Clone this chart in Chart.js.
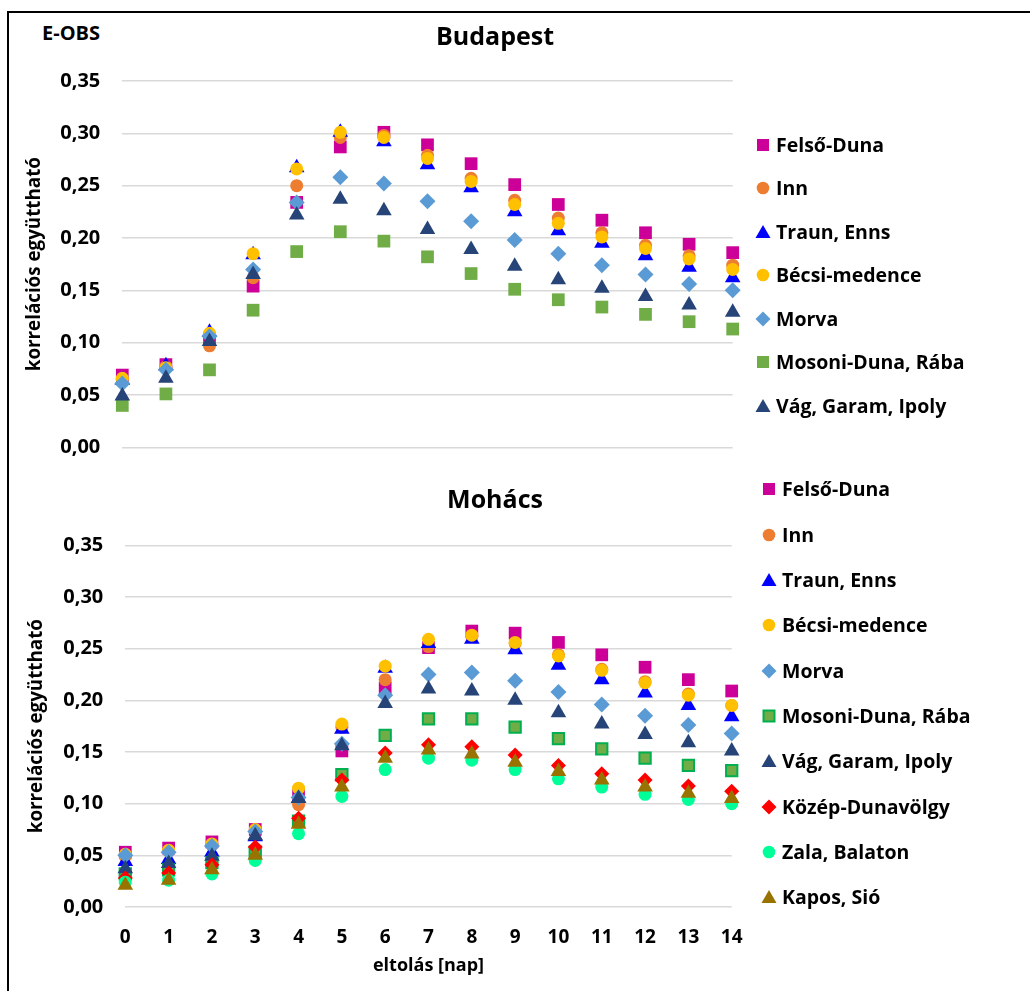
<!DOCTYPE html>
<html>
<head>
<meta charset="utf-8">
<script src="https://cdn.jsdelivr.net/npm/chart.js@4.4.1/dist/chart.umd.min.js"></script>
<style>
  html, body { margin: 0; padding: 0; background: #fff; }
  body { width: 1030px; height: 991px; position: relative; overflow: hidden; font-family: "Open Sans", sans-serif; }
  #frame { position: absolute; left: 7px; top: 11px; width: 1040px; height: 1000px; border-top: 2px solid #000; border-left: 2px solid #000; }
  #eobs { position: absolute; left: 42px; top: 23px; font-size: 20px; line-height: 20px; font-weight: 700; color: #000; }
  .wrap { position: absolute; left: 0; }
  .legend { position: absolute; left: 0; top: 0; }
  .item { position: absolute; height: 26px; line-height: 26px; display: flex; align-items: center; white-space: nowrap; font-size: 19.5px; font-weight: 700; color: #000; }
  .item svg { width: 18px; height: 18px; margin-right: 4px; flex: none; }
</style>
</head>
<body>
<div id="frame"></div>
<div id="eobs">E-OBS</div>
<div class="wrap" style="top:0"><canvas id="chartBudapest" width="990" height="482"></canvas></div>
<div class="wrap" style="top:460px"><canvas id="chartMohacs" width="990" height="531"></canvas></div>
<div class="legend" id="legendBudapest"></div>
<div class="legend" id="legendMohacs"></div>
<script>
// eltolás (nap)
const lags = [0, 1, 2, 3, 4, 5, 6, 7, 8, 9, 10, 11, 12, 13, 14];

// Budapest
const budFelsoDuna = [0.069, 0.079, 0.104, 0.154, 0.234, 0.287, 0.301, 0.289, 0.271, 0.251, 0.232, 0.217, 0.205, 0.194, 0.186];
const budInn       = [0.065, 0.077, 0.097, 0.162, 0.250, 0.296, 0.298, 0.279, 0.257, 0.236, 0.219, 0.205, 0.193, 0.183, 0.174];
const budTraun     = [0.064, 0.078, 0.110, 0.184, 0.267, 0.301, 0.292, 0.270, 0.248, 0.225, 0.207, 0.195, 0.183, 0.172, 0.162];
const budBecsi     = [0.066, 0.076, 0.109, 0.185, 0.266, 0.301, 0.296, 0.276, 0.254, 0.232, 0.214, 0.201, 0.190, 0.180, 0.170];
const budMorva     = [0.061, 0.074, 0.106, 0.170, 0.234, 0.258, 0.252, 0.235, 0.216, 0.198, 0.185, 0.174, 0.165, 0.156, 0.150];
const budMosoni    = [0.040, 0.051, 0.074, 0.131, 0.187, 0.206, 0.197, 0.182, 0.166, 0.151, 0.141, 0.134, 0.127, 0.120, 0.113];
const budVag       = [0.049, 0.066, 0.101, 0.165, 0.222, 0.237, 0.226, 0.208, 0.189, 0.173, 0.160, 0.152, 0.144, 0.136, 0.129];

// Mohács
const mohFelsoDuna = [0.053, 0.057, 0.063, 0.075, 0.108, 0.151, 0.212, 0.251, 0.267, 0.265, 0.256, 0.244, 0.232, 0.220, 0.209];
const mohInn       = [0.049, 0.054, 0.060, 0.074, 0.099, 0.174, 0.220, 0.252, 0.262, 0.255, 0.244, 0.230, 0.218, 0.206, 0.195];
const mohTraun     = [0.044, 0.046, 0.053, 0.068, 0.105, 0.172, 0.231, 0.255, 0.259, 0.249, 0.234, 0.220, 0.207, 0.195, 0.184];
const mohBecsi     = [0.051, 0.055, 0.061, 0.075, 0.115, 0.177, 0.233, 0.259, 0.263, 0.256, 0.243, 0.229, 0.217, 0.205, 0.195];
const mohMorva     = [0.050, 0.053, 0.059, 0.073, 0.106, 0.158, 0.205, 0.225, 0.227, 0.219, 0.208, 0.196, 0.185, 0.176, 0.168];
const mohMosoni    = [0.032, 0.036, 0.043, 0.053, 0.083, 0.128, 0.166, 0.182, 0.182, 0.174, 0.163, 0.153, 0.144, 0.137, 0.132];
const mohVag       = [0.037, 0.042, 0.049, 0.069, 0.105, 0.156, 0.197, 0.211, 0.209, 0.200, 0.188, 0.177, 0.167, 0.159, 0.151];
const mohKozep     = [0.028, 0.033, 0.041, 0.058, 0.086, 0.123, 0.149, 0.157, 0.155, 0.147, 0.137, 0.129, 0.123, 0.117, 0.112];
const mohZala      = [0.024, 0.026, 0.032, 0.045, 0.071, 0.107, 0.133, 0.144, 0.142, 0.133, 0.124, 0.116, 0.109, 0.104, 0.100];
const mohKapos     = [0.021, 0.026, 0.036, 0.050, 0.080, 0.116, 0.144, 0.152, 0.148, 0.140, 0.131, 0.123, 0.116, 0.110, 0.105];

const FONT = "'Open Sans', sans-serif";

// marker styles per region
const styles = {
    "Felső-Duna":        { color: "#cc0099", shape: "rect", r: 9 },
    "Inn":               { color: "#ed7d31", shape: "circle", r: 6.5 },
    "Traun, Enns":       { color: "#0000ff", shape: "triangle", r: 9 },
    "Bécsi-medence":     { color: "#ffc000", shape: "circle", r: 6.5 },
    "Morva":             { color: "#5b9bd5", shape: "rectRot", r: 8 },
    "Mosoni-Duna, Rába": { color: "#70ad47", shape: "rect", r: 9 },
    "Vág, Garam, Ipoly": { color: "#264478", shape: "triangle", r: 9 },
    "Közép-Dunavölgy":   { color: "#ff0000", shape: "rectRot", r: 7.5 },
    "Zala, Balaton":     { color: "#00ff99", shape: "circle", r: 6.5 },
    "Kapos, Sió":        { color: "#997300", shape: "triangle", r: 9 }
};

const budSeries = [
    { name: "Felső-Duna", values: budFelsoDuna },
    { name: "Inn", values: budInn },
    { name: "Traun, Enns", values: budTraun },
    { name: "Bécsi-medence", values: budBecsi },
    { name: "Morva", values: budMorva },
    { name: "Mosoni-Duna, Rába", values: budMosoni },
    { name: "Vág, Garam, Ipoly", values: budVag }
];

const mohSeries = [
    { name: "Felső-Duna", values: mohFelsoDuna },
    { name: "Inn", values: mohInn },
    { name: "Traun, Enns", values: mohTraun },
    { name: "Bécsi-medence", values: mohBecsi },
    { name: "Morva", values: mohMorva },
    { name: "Mosoni-Duna, Rába", values: mohMosoni, border: "#00b050" },
    { name: "Vág, Garam, Ipoly", values: mohVag },
    { name: "Közép-Dunavölgy", values: mohKozep },
    { name: "Zala, Balaton", values: mohZala },
    { name: "Kapos, Sió", values: mohKapos }
];

function buildChart(canvasId, titleText, series, cfg) {
    const datasets = series.map((s, i) => {
        const st = styles[s.name];
        const radius = s.border ? 8 : st.r;
        return {
            label: s.name,
            data: lags.map((lag, j) => ({ x: lag, y: s.values[j] })),
            showLine: false,
            clip: false,
            order: -i,
            pointStyle: st.shape,
            pointRadius: radius,
            pointHoverRadius: radius,
            backgroundColor: st.color,
            borderColor: s.border || st.color,
            pointBackgroundColor: st.color,
            pointBorderColor: s.border || st.color,
            pointBorderWidth: s.border ? 2 : 0
        };
    });

    // x axis: shown only under the lower chart, the upper one keeps a zero-height axis
    const xScale = {
        type: "linear", min: 0, max: 14,
        grid: { display: false, drawTicks: false },
        border: { display: false },
        ticks: { display: cfg.showX, stepSize: 1, padding: 19, autoSkip: false, maxRotation: 0, color: "#000", font: { family: FONT, size: 19, weight: "bold" } },
        title: { display: cfg.showX, text: "eltolás [nap]", color: "#000", font: { family: FONT, size: 18, weight: "bold" }, padding: 0 },
        afterFit: s => { s.height = cfg.xHeight; }
    };

    return new Chart(document.getElementById(canvasId), {
        type: "scatter",
        data: { datasets: datasets },
        options: {
            responsive: false,
            animation: false,
            devicePixelRatio: 1,
            layout: { padding: cfg.padding, autoPadding: false },
            plugins: {
                legend: { display: false },
                tooltip: { enabled: false },
                title: {
                    display: true, text: titleText, color: "#000",
                    font: { family: FONT, size: 25, weight: "bold" },
                    padding: cfg.titlePadding
                }
            },
            scales: {
                x: xScale,
                y: {
                    type: "linear", min: 0, max: 0.35,
                    grid: { color: "#d9d9d9", lineWidth: 1.5, drawTicks: false },
                    border: { display: false },
                    ticks: {
                        stepSize: 0.05, padding: 22, color: "#000",
                        font: { family: FONT, size: 20, weight: "bold" },
                        callback: v => v.toFixed(2).replace(".", ",")
                    },
                    title: {
                        display: true, text: "korrelációs együttható", color: "#000",
                        font: { family: FONT, size: 18.8, weight: "bold" },
                        padding: { top: cfg.yTitlePad, bottom: 0 }
                    },
                    afterFit: s => { s.width = cfg.yWidth; }
                },
                spacer: {
                    type: "linear", position: "right", display: true,
                    grid: { display: false, drawTicks: false },
                    border: { display: false },
                    ticks: { display: false },
                    afterFit: s => { s.width = cfg.rightWidth; }
                }
            }
        }
    });
}

function markerSvg(st, border) {
    const c = st.color;
    let shape;
    if (border) {
        shape = '<rect x="3.5" y="3.5" width="11" height="11" fill="' + c + '" stroke="' + border + '" stroke-width="2"/>';
    } else if (st.shape === "rect") {
        shape = '<rect x="3" y="3" width="12" height="12" fill="' + c + '"/>';
    } else if (st.shape === "circle") {
        shape = '<circle cx="9" cy="9" r="6.3" fill="' + c + '"/>';
    } else if (st.shape === "triangle") {
        shape = '<polygon points="9,2 16.5,15 1.5,15" fill="' + c + '"/>';
    } else {
        shape = '<polygon points="9,1.5 16.5,9 9,16.5 1.5,9" fill="' + c + '"/>';
    }
    return '<svg viewBox="0 0 18 18">' + shape + '</svg>';
}

function buildLegend(elId, series, markerX, firstY, step) {
    const el = document.getElementById(elId);
    el.innerHTML = series.map((s, i) => {
        const st = styles[s.name];
        const top = firstY + i * step - 13.6;
        return '<div class="item" style="left:' + (markerX - 9) + 'px;top:' + top + 'px">' +
            markerSvg(st, s.border) + '<span>' + s.name + '</span></div>';
    }).join("");
}

// upper chart: bottom padding covers the tick padding Chart.js reserves under the 0,00 label
buildChart("chartBudapest", "Budapest", budSeries, {
    showX: false,
    xHeight: 0,
    padding: { left: 0, right: 0, top: 0, bottom: 34.7 },
    titlePadding: { top: 23, bottom: 28 },
    yWidth: 122.3,
    yTitlePad: 23.8,
    rightWidth: 257.3
});

buildChart("chartMohacs", "Mohács", mohSeries, {
    showX: true,
    xHeight: 69.6,
    padding: { left: 0, right: 0, top: 0, bottom: 14.4 },
    titlePadding: { top: 25.5, bottom: 29.8 },
    yWidth: 125.3,
    yTitlePad: 25.8,
    rightWidth: 258.3
});

buildLegend("legendBudapest", budSeries, 763, 145.3, 43.55);
buildLegend("legendMohacs", mohSeries, 769, 490, 45.3);
</script>
</body>
</html>
